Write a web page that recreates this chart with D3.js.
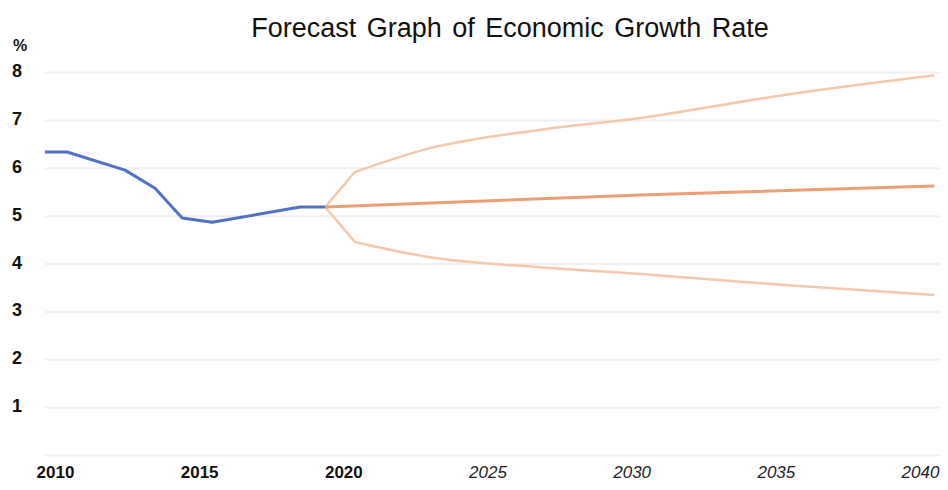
<!DOCTYPE html>
<html>
<head>
<meta charset="utf-8">
<script src="https://cdn.jsdelivr.net/npm/d3@7"></script>
<style>
  html, body { margin: 0; padding: 0; background: #fff; }
  svg { display: block; }
</style>
</head>
<body>
<svg id="chart" width="948" height="490"></svg>
<script>
// ---- data ----
const title = "Forecast Graph of Economic Growth Rate";
const yTicks = [1, 2, 3, 4, 5, 6, 7, 8];
const xTicksActual = [2010, 2015, 2020];
const xTicksForecast = [2025, 2030, 2035, 2040];

const histYears  = [2009.65, 2010.42, 2012.43, 2013.47, 2014.41, 2015.45, 2018.5, 2019.37];
const histValues = [6.33, 6.33, 5.95, 5.57, 4.95, 4.86, 5.18, 5.18];

const fcYears     = [2019.37, 2020.4, 2023.0, 2026.8, 2030.3, 2035.3, 2040.5];
const upperValues = [5.18, 5.91, 6.41, 6.79, 7.04, 7.52, 7.93];
const lowerValues = [5.18, 4.45, 4.13, 3.92, 3.78, 3.55, 3.34];
const midYears    = [2019.37, 2030.3, 2040.5];
const midValues   = [5.18, 5.43, 5.62];

// ---- layout ----
const svg = d3.select("#chart");
const x = d3.scaleLinear().domain([2010, 2040]).range([55, 920]);
const y = d3.scaleLinear().domain([0, 8]).range([455, 72]);
const gridLeft = 45, gridRight = 940;

// title
svg.append("text")
  .attr("x", 510).attr("y", 37)
  .attr("text-anchor", "middle")
  .attr("font-family", "Liberation Sans, Arial, sans-serif")
  .attr("font-size", 27)
  .attr("word-spacing", 3)
  .attr("fill", "#111")
  .text(title);

// gridlines
const yAxis = d3.axisLeft(y).tickValues([0].concat(yTicks))
  .tickSize(-(gridRight - gridLeft)).tickFormat("");
const gGrid = svg.append("g").attr("transform", `translate(${gridLeft},0)`).call(yAxis);
gGrid.select(".domain").remove();
gGrid.selectAll(".tick line").attr("stroke", "#f0f0f0").attr("stroke-width", 2);

// y labels
svg.append("g").selectAll("text").data(yTicks).join("text")
  .attr("x", 17).attr("y", d => y(d) + 5)
  .attr("text-anchor", "middle")
  .attr("font-family", "Liberation Sans, Arial, sans-serif")
  .attr("font-weight", "bold").attr("font-size", 18)
  .attr("fill", "#111")
  .text(d => d);
svg.append("text")
  .attr("x", 20).attr("y", 51)
  .attr("text-anchor", "middle")
  .attr("font-family", "Liberation Sans, Arial, sans-serif")
  .attr("font-weight", "bold").attr("font-size", 16)
  .attr("fill", "#111")
  .text("%");

// x labels
const xAxisA = d3.axisBottom(x).tickValues(xTicksActual).tickSize(0).tickFormat(d3.format("d"));
const gxa = svg.append("g").attr("transform", "translate(0,463)").call(xAxisA);
gxa.select(".domain").remove();
gxa.selectAll("text")
  .attr("font-family", "Liberation Sans, Arial, sans-serif")
  .attr("font-weight", "bold").attr("font-size", 17).attr("fill", "#111");

const xAxisF = d3.axisBottom(x).tickValues(xTicksForecast).tickSize(0).tickFormat(d3.format("d"));
const gxf = svg.append("g").attr("transform", "translate(0,463)").call(xAxisF);
gxf.select(".domain").remove();
gxf.selectAll("text")
  .attr("font-family", "Liberation Sans, Arial, sans-serif")
  .attr("font-style", "italic").attr("font-size", 17).attr("fill", "#222");

// lines
const line = d3.line().x(d => x(d[0])).y(d => y(d[1]));
const smooth = d3.line().x(d => x(d[0])).y(d => y(d[1])).curve(d3.curveMonotoneX);
const zip = (a, b) => a.map((v, i) => [v, b[i]]);

function forecast(vals, color, w) {
  const pts = zip(fcYears, vals);
  svg.append("path").datum(pts.slice(0, 2))
    .attr("d", line).attr("fill", "none")
    .attr("stroke", color).attr("stroke-width", w);
  svg.append("path").datum(pts.slice(1))
    .attr("d", smooth).attr("fill", "none")
    .attr("stroke", color).attr("stroke-width", w);
}
forecast(upperValues, "#f5c7ab", 2.5);
forecast(lowerValues, "#f5c7ab", 2.5);

svg.append("path").datum(zip(midYears, midValues))
  .attr("d", smooth).attr("fill", "none")
  .attr("stroke", "#ee9e74").attr("stroke-width", 3);
svg.append("path").datum(zip(histYears, histValues))
  .attr("d", line).attr("fill", "none")
  .attr("stroke", "#4f72c6").attr("stroke-width", 3)
  .attr("stroke-linejoin", "round");
</script>
</body>
</html>
